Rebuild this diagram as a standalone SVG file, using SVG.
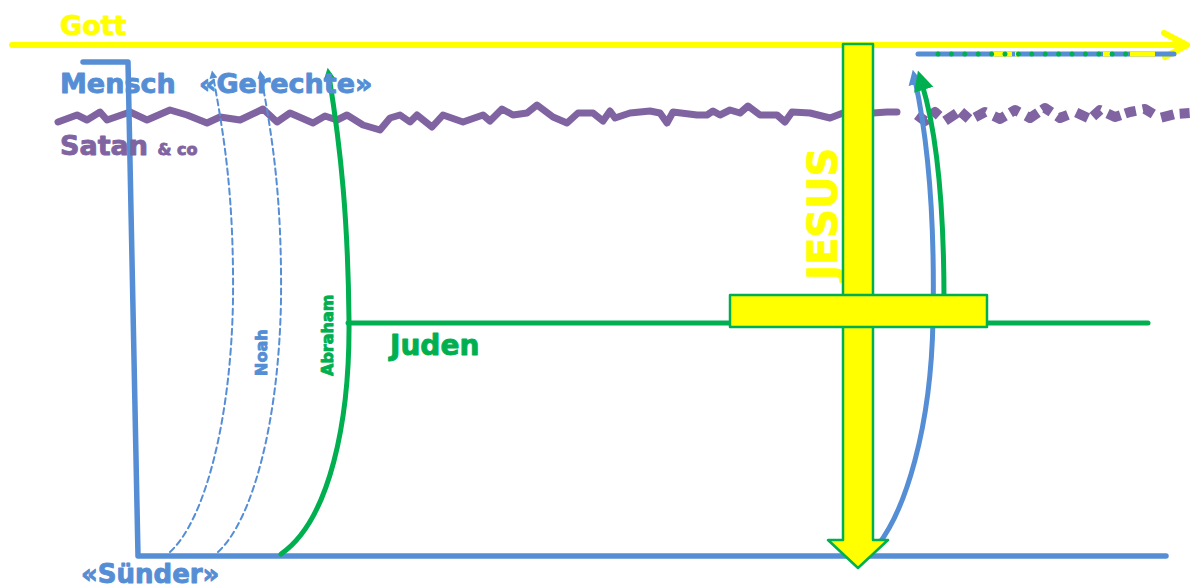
<svg xmlns="http://www.w3.org/2000/svg" width="1190" height="587" viewBox="0 0 1190 587">
<style>
  text { font-family: "DejaVu Sans", Verdana, sans-serif; font-weight: bold; stroke-width: 0.9; stroke-linejoin: round; }
  .blue { fill: #558ED5; stroke: #558ED5; }
  .green { fill: #00B050; stroke: #00B050; }
  .yellow { fill: #FFFF00; stroke: #FFFF00; }
  .purple { fill: #8064A2; stroke: #8064A2; }
  .line { fill: none; stroke-linecap: round; stroke-linejoin: round; }
  .sb { stroke: #558ED5; }
  .sg { stroke: #00B050; }
  .sp { stroke: #8064A2; }
  .sy { stroke: #FFFF00; }
  .cross { fill: #FFFF00; stroke: #00B050; stroke-width: 2.5; stroke-linejoin: round; }
</style>
<defs>
  <marker id="ahBlue" viewBox="0 0 10 10" refX="3" refY="5" markerWidth="3" markerHeight="3" orient="auto">
    <path d="M0,0 L10,5 L0,10 z" fill="#558ED5"/>
  </marker>
  <marker id="ahGreen" viewBox="0 0 10 10" refX="3" refY="5" markerWidth="4" markerHeight="4.4" orient="auto">
    <path d="M0,0 L10,5 L0,10 z" fill="#00B050"/>
  </marker>
  <marker id="ahGreenS" viewBox="0 0 10 10" refX="3" refY="5" markerWidth="2.6" markerHeight="2.4" orient="auto">
    <path d="M0,0 L10,5 L0,10 z" fill="#00B050"/>
  </marker>
  <marker id="ahDash" viewBox="0 0 10 10" refX="3" refY="5" markerWidth="5" markerHeight="4" orient="auto">
    <path d="M0,0 L10,5 L0,10 z" fill="#558ED5"/>
  </marker>
</defs>
<rect width="1190" height="587" fill="#ffffff"/>

<g id="connectors">
  <!-- Gott line -->
  <path class="line sy" stroke-width="6" d="M12,45 L1186,45"/>
  <path class="line sy" stroke-width="6" d="M1164,33 L1187,45 L1165,57"/>
  <!-- Satan wavy line -->
  <polyline class="line sp" stroke-width="7" points="58,122 77,115 87,120 100,112 107,120 130,112 147,120 170,110 187,115 207,123 220,117 240,120 263,109 277,122 290,113 313,123 325,116 337,120 347,115 363,125 380,130 390,118 400,115 410,122 417,115 432,127 443,115 463,122 483,115 490,121 502,109 513,115 527,113 537,105 553,117 567,123 578,113 593,113 603,121 610,111 615,118 630,113 650,111 660,113 667,123 673,112 697,115 707,115 713,111 720,115 730,110 740,113 748,106 760,115 777,115 785,122 792,112 810,113 830,118 843,113 873,113 887,112 897,112"/>
  <polyline class="sp" fill="none" stroke-width="10" stroke-linejoin="round" stroke-dasharray="13 6 10 8 14 5 11 7 12 9" points="917,115 925,121 935,112 945,121 960,111 970,120 985,112 1000,119 1015,110 1030,118 1045,108 1060,118 1075,112 1090,119 1100,110 1115,117 1130,112 1145,109 1160,118 1175,114 1190,113"/>
  <!-- Mensch / Suender L line -->
  <path class="line sb" stroke-width="5.5" d="M83,62 L128,62 L138,556 L1166,556"/>
  <!-- Noah dashed arrows -->
  <path class="line sb" stroke-width="2" stroke-dasharray="6 4" marker-end="url(#ahDash)" d="M170,552 C205,520 231,420 233,300 C234,200 225,140 213,76"/>
  <path class="line sb" stroke-width="2" stroke-dasharray="6 4" marker-end="url(#ahDash)" d="M218,552 C253,520 279,420 281,300 C282,200 273,140 261,76"/>
  <!-- Abraham arrow -->
  <path class="line sg" stroke-width="5" marker-end="url(#ahGreenS)" d="M281,554 C330,520 350,420 349,320 C348,220 341,150 329,76"/>
  <!-- Juden line -->
  <path class="line sg" stroke-width="5" d="M348,323 L1148,323"/>
  <!-- right curves -->
  <path class="line sb" stroke-width="5" marker-end="url(#ahBlue)" d="M878,545 C905,510 931,430 933,320 C935,220 928,140 915,80"/>
  <path class="line sg" stroke-width="5" marker-end="url(#ahGreen)" d="M944,300 C944,200 936,130 922,84"/>
  <!-- eternal line top right -->
  <path class="line sb" stroke-width="5" d="M918,54 L1174,54"/>
  <path class="sy" stroke-width="5" d="M993,54 L1012,54 M1015,54 L1020,54 M1103,54 L1110,54 M1130,54 L1155,54"/>
  <path class="line sg" stroke-width="5" stroke-dasharray="0 13.4" d="M938,54 L1128,54"/>
</g>

<g id="gott"><text x="60" y="35" font-size="27" class="yellow">Gott</text></g>
<g id="mensch"><text x="60" y="93" font-size="27" class="blue">Mensch</text></g>
<g id="gerechte"><text x="199" y="93" font-size="27" class="blue">«Gerechte»</text></g>
<g id="satan"><text x="60" y="155" font-size="27" class="purple">Satan <tspan font-size="16">&amp; co</tspan></text></g>
<g id="suender"><text x="81" y="583" font-size="26" class="blue">«Sünder»</text></g>
<g id="noah"><text transform="translate(267,376) rotate(-90)" font-size="16" class="blue" stroke-width="0.5">Noah</text></g>
<g id="abraham"><text transform="translate(333,376) rotate(-90)" font-size="16" class="green" stroke-width="0.5">Abraham</text></g>
<g id="juden"><text x="390" y="355" font-size="28" class="green">Juden</text></g>
<g id="jesus"><text transform="translate(837,280) rotate(-90)" font-size="40" class="yellow" stroke-width="1.2">JESUS</text></g>

<g id="cross">
  <path class="cross" d="M843,44 L873,44 L873,540 L888,540 L858,568 L828,540 L843,540 Z"/>
  <rect class="cross" x="730" y="295" width="257" height="32"/>
</g>
</svg>
